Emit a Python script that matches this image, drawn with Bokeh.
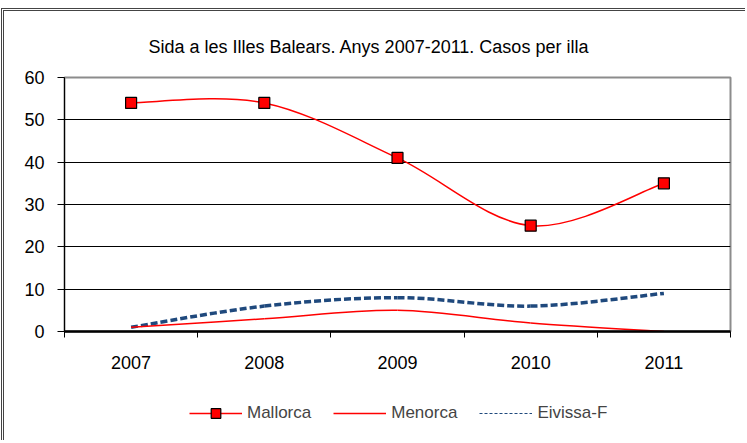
from bokeh.plotting import figure
from bokeh.models import FixedTicker, Legend, LegendItem, Range1d
from bokeh.layouts import column
from bokeh.embed import file_html
from bokeh.resources import INLINE

years = ["2007", "2008", "2009", "2010", "2011"]
mallorca = [54, 54, 41, 25, 35]
menorca = [1, 3, 5, 2, 0]
eivissa = [1, 6, 8, 6, 9]
y_ticks = [0, 10, 20, 30, 40, 50, 60]

xs = [i + 0.5 for i in range(len(years))]
FONT = "Liberation Sans"
RED = "#ff0000"
BLUE = "#1f497d"


def smooth(x, y, t=1 / 6):
    n = len(x)
    out = dict(x0=[], y0=[], x1=[], y1=[], cx0=[], cy0=[], cx1=[], cy1=[])
    for i in range(n - 1):
        a = i - 1 if i > 0 else i
        d = i + 2 if i + 2 < n else i + 1
        out["x0"].append(x[i]); out["y0"].append(y[i])
        out["x1"].append(x[i + 1]); out["y1"].append(y[i + 1])
        out["cx0"].append(x[i] + (x[i + 1] - x[a]) * t)
        out["cy0"].append(y[i] + (y[i + 1] - y[a]) * t)
        out["cx1"].append(x[i + 1] - (x[d] - x[i]) * t)
        out["cy1"].append(y[i + 1] - (y[d] - y[i]) * t)
    return out


p = figure(width=741, height=371, output_backend="svg", toolbar_location=None,
           x_range=Range1d(0, 5), y_range=Range1d(0, 60),
           min_border_left=60, min_border_right=15, min_border_top=66, min_border_bottom=51)

p.background_fill_color = "white"
p.border_fill_color = "white"
p.outline_line_color = "#8c8c8c"
p.outline_line_width = 2

p.title.text = "Sida a les Illes Balears. Anys 2007-2011. Casos per illa"
p.title.align = "left"
p.title.offset = 84
p.title.text_font = FONT
p.title.text_font_size = "18px"
p.title.text_font_style = "normal"
p.title.text_color = "black"
p.title.standoff = 41

# axes
xa = p.xaxis[0]
xa.ticker = FixedTicker(ticks=xs, minor_ticks=[0, 1, 2, 3, 4, 5])
xa.major_label_overrides = {x: y for x, y in zip(xs, years)}
xa.major_tick_line_color = None
xa.minor_tick_line_color = "black"
xa.minor_tick_out = 6
xa.minor_tick_in = 0
xa.axis_line_color = "black"
xa.axis_line_width = 2.5
xa.major_label_text_font = FONT
xa.major_label_text_font_size = "18px"
xa.major_label_text_color = "black"
xa.major_label_standoff = 18

ya = p.yaxis[0]
ya.ticker = FixedTicker(ticks=y_ticks)
ya.minor_tick_line_color = None
ya.major_tick_out = 7
ya.major_tick_in = 0
ya.major_tick_line_color = "black"
ya.axis_line_color = "black"
ya.major_label_text_font = FONT
ya.major_label_text_font_size = "18px"
ya.major_label_text_color = "black"
ya.major_label_standoff = 13

p.xgrid.visible = False
p.ygrid.ticker = FixedTicker(ticks=y_ticks[1:-1])
p.ygrid.grid_line_color = "black"
p.ygrid.grid_line_width = 1

# series
p.bezier(line_color=BLUE, line_width=3.5, line_dash="7 3", **smooth(xs, eivissa))
p.bezier(line_color=RED, line_width=1.5, **smooth(xs, menorca))
p.bezier(line_color=RED, line_width=1.5, **smooth(xs, mallorca))
p.scatter(xs, mallorca, marker="square", size=11, fill_color=RED,
          line_color="black", line_width=1.2)

# legend strip (separate figure below the chart); proxies sit outside its range
q = figure(width=741, height=58, output_backend="svg", toolbar_location=None,
           x_range=Range1d(0, 1), y_range=Range1d(0, 1),
           min_border_left=0, min_border_right=0, min_border_top=0,
           min_border_bottom=0, outline_line_color=None)
q.axis.visible = False
q.grid.visible = False

proxy_x = [-3, -2]
proxy_y = [-3, -3]
lg_line = q.line(proxy_x, proxy_y, line_color=RED, line_width=1.5)
lg_sq = q.scatter(proxy_x[:1], proxy_y[:1], marker="square", size=10, fill_color=RED,
                  line_color="black", line_width=1.2)
lg_men = q.line(proxy_x, proxy_y, line_color=RED, line_width=1.5)
lg_eiv = q.line(proxy_x, proxy_y, line_color=BLUE, line_width=1.2, line_dash="3 2")

legend = Legend(items=[LegendItem(label="Mallorca", renderers=[lg_line, lg_sq]),
                       LegendItem(label="Menorca", renderers=[lg_men]),
                       LegendItem(label="Eivissa-F", renderers=[lg_eiv])],
                orientation="horizontal", location=(125, 15),
                glyph_width=53, glyph_height=24, label_standoff=5, spacing=22,
                label_text_font=FONT, label_text_font_size="17px",
                border_line_color=None, background_fill_alpha=0,
                padding=0, margin=0)
q.add_layout(legend, "center")

layout = column(p, q, spacing=0,
                styles={"margin-left": "1px", "margin-top": "8px",
                        "border-top": "3px double #444",
                        "border-left": "3px double #444"})

open("out.html", "w").write(file_html(layout, INLINE))
